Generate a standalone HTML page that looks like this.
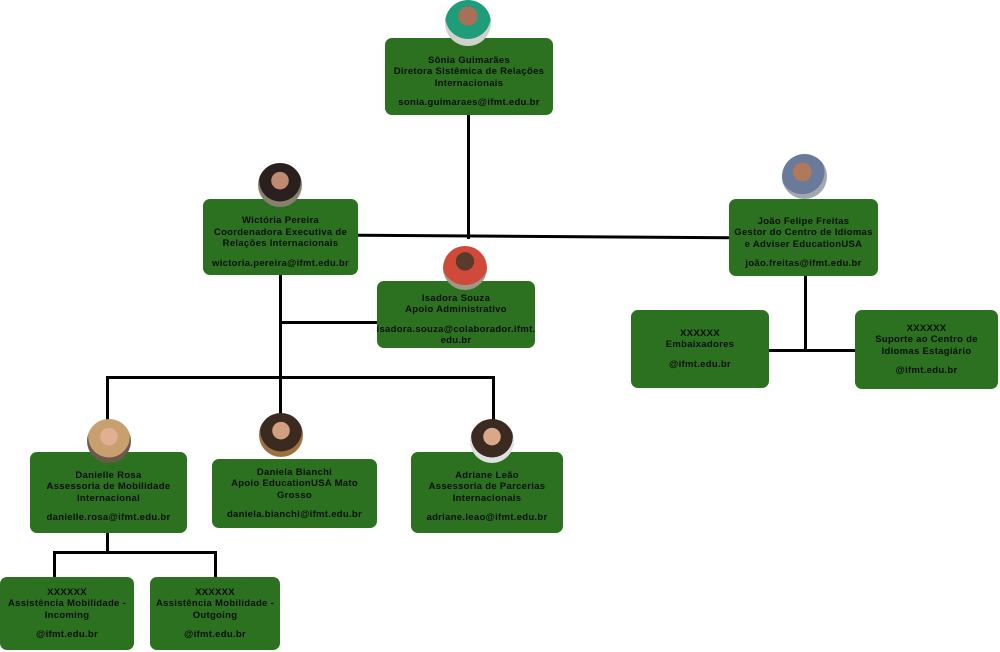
<!DOCTYPE html>
<html><head><meta charset="utf-8"><style>
body{margin:0;width:1000px;height:652px;background:#fff;position:relative;overflow:hidden;font-family:"Liberation Sans",sans-serif}
.b{position:absolute;background:#2b7120;border-radius:7px;box-sizing:border-box;display:flex;flex-direction:column;justify-content:center;align-items:center;text-align:center;color:#0d0d0d;font-weight:bold;font-size:9.5px;line-height:11.5px;letter-spacing:0.3px;padding:0 4px}
.b .m{margin-top:8px}
.l{position:absolute;background:#000}
.a{position:absolute;border-radius:50%;background:radial-gradient(circle at 50% 40%,#c89a7a 0 30%,#8a7a6a 31% 60%,#b5b0a8 61%)}
</style></head><body>
<!-- lines -->
<div class="l" style="left:467px;top:115px;width:3px;height:124px"></div>
<div class="l" style="left:358px;top:235px;width:371px;height:3px;transform:rotate(0.4deg)"></div>
<div class="l" style="left:279px;top:275px;width:3px;height:140px"></div>
<div class="l" style="left:280px;top:321px;width:98px;height:3px"></div>
<div class="l" style="left:106px;top:376px;width:389px;height:3px"></div>
<div class="l" style="left:106px;top:376px;width:3px;height:45px"></div>
<div class="l" style="left:492px;top:376px;width:3px;height:45px"></div>
<div class="l" style="left:106px;top:533px;width:3px;height:20px"></div>
<div class="l" style="left:53px;top:551px;width:163px;height:3px"></div>
<div class="l" style="left:53px;top:551px;width:3px;height:27px"></div>
<div class="l" style="left:214px;top:551px;width:3px;height:27px"></div>
<div class="l" style="left:804px;top:276px;width:3px;height:75px"></div>
<div class="l" style="left:769px;top:349px;width:87px;height:3px"></div>
<!-- boxes -->
<div class="b" style="left:385px;top:38px;width:168px;height:77px;padding-top:10px"><div>Sônia Guimarães</div><div>Diretora Sistêmica de Relações</div><div>Internacionais</div><div class="m">sonia.guimaraes@ifmt.edu.br</div></div>
<div class="b" style="left:203px;top:199px;width:155px;height:76px;padding-top:10px"><div>Wictória Pereira</div><div>Coordenadora Executiva de Relações Internacionais</div><div class="m">wictoria.pereira@ifmt.edu.br</div></div>
<div class="b" style="left:729px;top:199px;width:149px;height:77px;padding-top:10px"><div>João Felipe Freitas</div><div>Gestor do Centro de Idiomas e Adviser EducationUSA</div><div class="m">joão.freitas@ifmt.edu.br</div></div>
<div class="b" style="left:377px;top:281px;width:158px;height:67px;padding-top:10px"><div>Isadora Souza</div><div>Apoio Administrativo</div><div class="m">isadora.souza@colaborador.ifmt.<br>edu.br</div></div>
<div class="b" style="left:631px;top:310px;width:138px;height:78px"><div>XXXXXX</div><div>Embaixadores</div><div class="m">@ifmt.edu.br</div></div>
<div class="b" style="left:855px;top:310px;width:143px;height:79px"><div>XXXXXX</div><div>Suporte ao Centro de Idiomas Estagiário</div><div class="m">@ifmt.edu.br</div></div>
<div class="b" style="left:30px;top:452px;width:157px;height:81px;padding-top:8px"><div>Danielle Rosa</div><div>Assessoria de Mobilidade Internacional</div><div class="m">danielle.rosa@ifmt.edu.br</div></div>
<div class="b" style="left:212px;top:459px;width:165px;height:69px"><div>Daniela Bianchi</div><div>Apoio EducationUSA Mato Grosso</div><div class="m">daniela.bianchi@ifmt.edu.br</div></div>
<div class="b" style="left:411px;top:452px;width:152px;height:81px;padding-top:8px"><div>Adriane Leão</div><div>Assessoria de Parcerias Internacionais</div><div class="m">adriane.leao@ifmt.edu.br</div></div>
<div class="b" style="left:0px;top:577px;width:134px;height:73px"><div>XXXXXX</div><div>Assistência Mobilidade - Incoming</div><div class="m">@ifmt.edu.br</div></div>
<div class="b" style="left:150px;top:577px;width:130px;height:73px"><div>XXXXXX</div><div>Assistência Mobilidade - Outgoing</div><div class="m">@ifmt.edu.br</div></div>
<!-- avatars -->
<div class="a" style="left:445px;top:0px;width:46px;height:46px;background:radial-gradient(circle at 50% 35%,#a87056 0 25%,#1f9c7a 26% 60%,#d0d0cc 61%)"></div>
<div class="a" style="left:258px;top:163px;width:44px;height:44px;background:radial-gradient(circle at 50% 40%,#c08a70 0 25%,#2a2020 26% 60%,#8a8070 61%)"></div>
<div class="a" style="left:782px;top:154px;width:45px;height:45px;background:radial-gradient(circle at 45% 40%,#b07a5a 0 25%,#6a7a9a 26% 60%,#a0a8b0 61%)"></div>
<div class="a" style="left:443px;top:246px;width:44px;height:44px;background:radial-gradient(circle at 50% 35%,#5a3a2a 0 25%,#d04a3a 26% 65%,#9a9a8a 66%)"></div>
<div class="a" style="left:87px;top:419px;width:44px;height:44px;background:radial-gradient(circle at 50% 40%,#e0b090 0 25%,#c8a070 26% 60%,#6a5a4a 61%)"></div>
<div class="a" style="left:259px;top:413px;width:44px;height:44px;background:radial-gradient(circle at 50% 40%,#d0a080 0 25%,#3a2a20 26% 60%,#a07040 61%)"></div>
<div class="a" style="left:470px;top:419px;width:44px;height:44px;background:radial-gradient(circle at 50% 40%,#d8a888 0 25%,#3a2a20 26% 60%,#e0e0e0 61%)"></div>
</body></html>
